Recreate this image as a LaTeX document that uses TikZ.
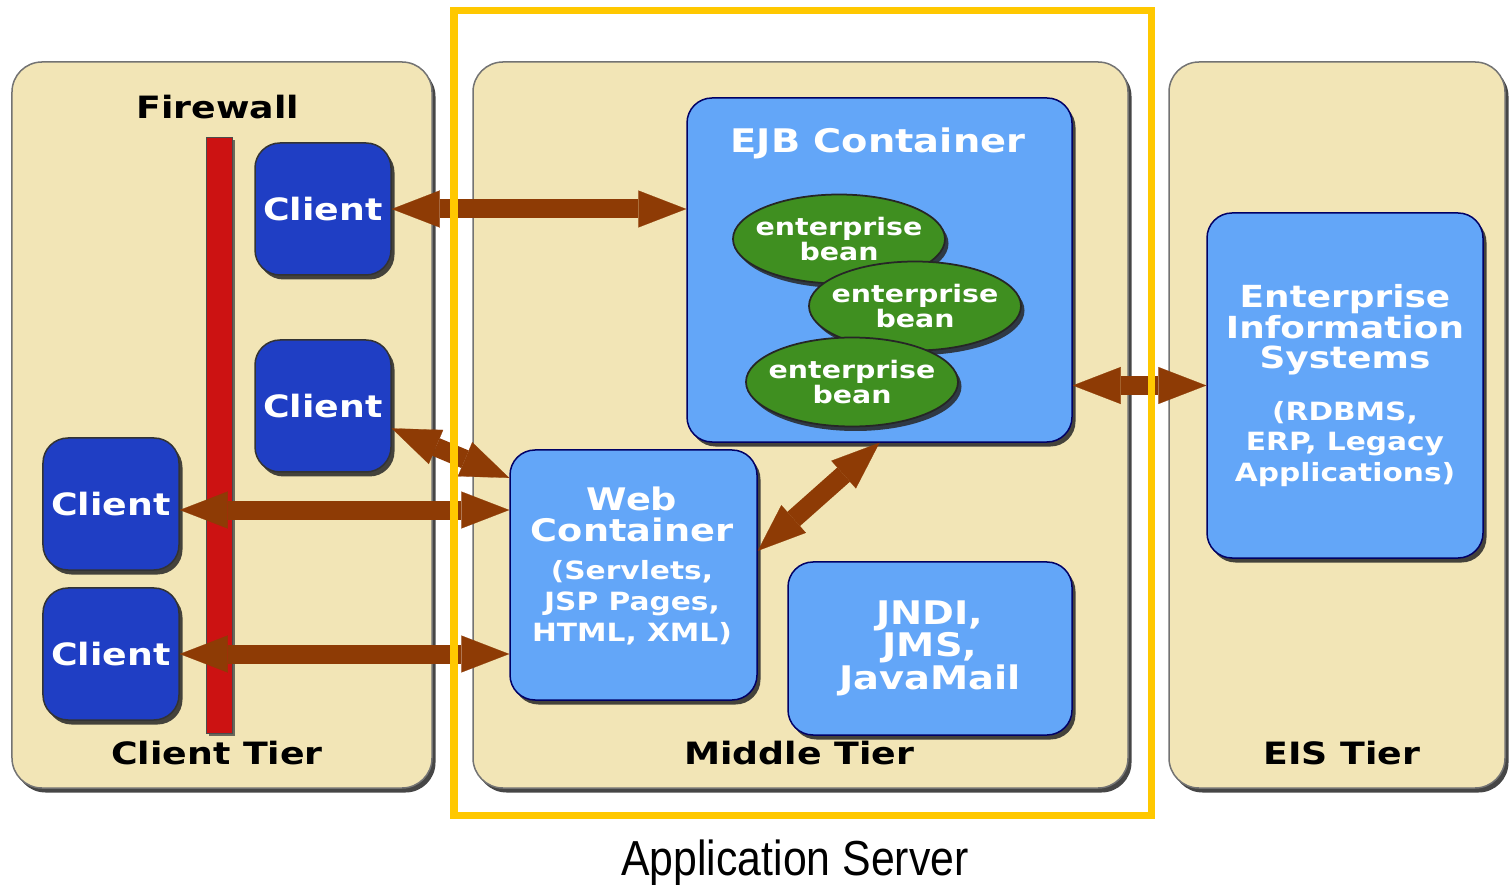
\documentclass[tikz,border=0pt]{standalone}
\usepackage{fontspec}
\usetikzlibrary{arrows.meta,shapes.geometric,shadows}
\newfontfamily\lblfont[FakeStretch=1.18]{DejaVu Sans}
\newfontfamily\narrowfont[FakeStretch=0.87]{Liberation Sans}
\newcommand\subfnt{\fontsize{14.3}{17}\selectfont}
\definecolor{tierbg}{HTML}{F2E5B6}
\definecolor{clientblue}{HTML}{1F3EC4}
\definecolor{lightblue}{HTML}{63A6F8}
\definecolor{beangreen}{HTML}{3F8F20}
\definecolor{arrowbrown}{HTML}{8E3B05}
\definecolor{fwred}{HTML}{CC1212}
\definecolor{appyellow}{HTML}{FFC800}
\begin{document}
\begin{tikzpicture}[x=0.2mm,y=-0.2mm,
  shade/.style={drop shadow={shadow xshift=0.7mm,shadow yshift=-0.9mm,fill=black!85,opacity=0.85}},
  tier/.style={rounded corners=6mm,fill=tierbg,draw=black!55,line width=0.3mm,shade},
  tierlbl/.style={font=\lblfont\bfseries\fontsize{17.5}{19}\selectfont,text=black,inner sep=0pt},
  clientbox/.style={rounded corners=5mm,fill=clientblue,draw=black!80,line width=0.3mm,shade,
    minimum width=27.2mm,minimum height=26.4mm,text=white,
    font=\lblfont\bfseries\fontsize{17.5}{19}\selectfont},
  bluebox/.style={rounded corners=5mm,fill=lightblue,draw=blue!40!black,line width=0.3mm,shade,
    text=white,align=center,inner sep=0pt},
  boxtext/.style={text=white,align=center,inner sep=0pt},
  bean/.style={ellipse,fill=beangreen,draw=black!85,line width=0.35mm,shade,
    minimum width=42.4mm,minimum height=17.8mm,inner sep=0pt,text=white,align=center,
    font=\lblfont\bfseries\fontsize{13.7}{13.2}\selectfont},
  barrow/.style={draw=arrowbrown,line width=3.8mm,
    {Triangle[length=9.6mm,width=7.4mm,line width=0.1pt]}-{Triangle[length=9.6mm,width=7.4mm,line width=0.1pt]}}
]
\useasboundingbox (0,0) rectangle (1510,885);
\fill[white] (0,0) rectangle (1510,885);

% tiers
\node[tier,minimum width=84mm,minimum height=145.2mm] (ct) at (222,425) {};
\node[tier,minimum width=131mm,minimum height=145.2mm] (mt) at (800.5,425) {};
\node[tier,minimum width=67.2mm,minimum height=145.2mm] (et) at (1337,425) {};

\node[tierlbl] (fwl) at (218,107) {Firewall};
\node[tierlbl] (ctl) at (217,753) {Client Tier};
\node[tierlbl] (mtl) at (799,753) {Middle Tier};
\node[tierlbl] (etl) at (1342,753) {EIS Tier};

% firewall
\node[fill=fwred,draw=black!70,line width=0.2mm,drop shadow={shadow xshift=0.5mm,shadow yshift=-0.5mm,fill=black!80,opacity=0.7},minimum width=5.2mm,minimum height=119mm,inner sep=0pt] (fw) at (219,435.5) {};

% clients
\node[clientbox] (c1) at (323,209) {Client};
\node[clientbox] (c2) at (323,406) {Client};
\node[clientbox] (c3) at (111,504) {Client};
\node[clientbox] (c4) at (111,654) {Client};

% EJB container
\node[bluebox,minimum width=77mm,minimum height=68.8mm] (ejb) at (879.5,270) {};
\node[text=white,inner sep=0pt,font=\lblfont\bfseries\fontsize{18.5}{20}\selectfont] (ejbt) at (878,143) {EJB Container};
\node[bean] (b1) at (839,239) {\makebox[0pt]{enterprise}\\\makebox[0pt]{bean}};
\node[bean] (b2) at (915,306) {\makebox[0pt]{enterprise}\\\makebox[0pt]{bean}};
\node[bean] (b3) at (852,382) {\makebox[0pt]{enterprise}\\\makebox[0pt]{bean}};

% web container
\node[bluebox,minimum width=49.4mm,minimum height=50mm] (web) at (633.5,575) {};
\node[boxtext,font=\lblfont\bfseries\fontsize{17.7}{17.6}\selectfont] (webt) at (632,566)
  {Web\\Container\\[4pt]\subfnt (Servlets,\\\subfnt JSP Pages,\\\subfnt HTML, XML)};

% JNDI
\node[bluebox,minimum width=56.8mm,minimum height=34.6mm,
  font=\lblfont\bfseries\fontsize{18.5}{17.2}\selectfont] (jndi) at (930,648.5)
  {JNDI,\\JMS,\\JavaMail};

% EIS
\node[bluebox,minimum width=55.2mm,minimum height=69mm,
  font=\lblfont\bfseries\fontsize{17.3}{17.4}\selectfont] (eis) at (1345,385.5)
  {Enterprise\\Information\\Systems\\[12pt]\subfnt (RDBMS,\\\subfnt ERP, Legacy\\\subfnt Applications)};

% arrows
\draw[barrow] (c1.east) -- (c1.east -| ejb.west);
\draw[barrow] (c2.-18) -- (web.142);
\draw[barrow] (c3.-5) -- (c3.-5 -| web.west);
\draw[barrow] (c4.east) -- (c4.east -| web.west);
\draw[barrow] (web.11) -- (ejb.south);
\draw[barrow] (eis.west -| ejb.east) -- (eis.west);

% application server frame
\node[draw=appyellow,line width=1.4mm,minimum width=139.4mm,minimum height=160.8mm,inner sep=0pt] (app) at (802.5,413) {};
\node[font=\narrowfont\fontsize{28}{30}\selectfont,inner sep=0pt] (appl) at (795,863) {Application Server};
\end{tikzpicture}
\end{document}
